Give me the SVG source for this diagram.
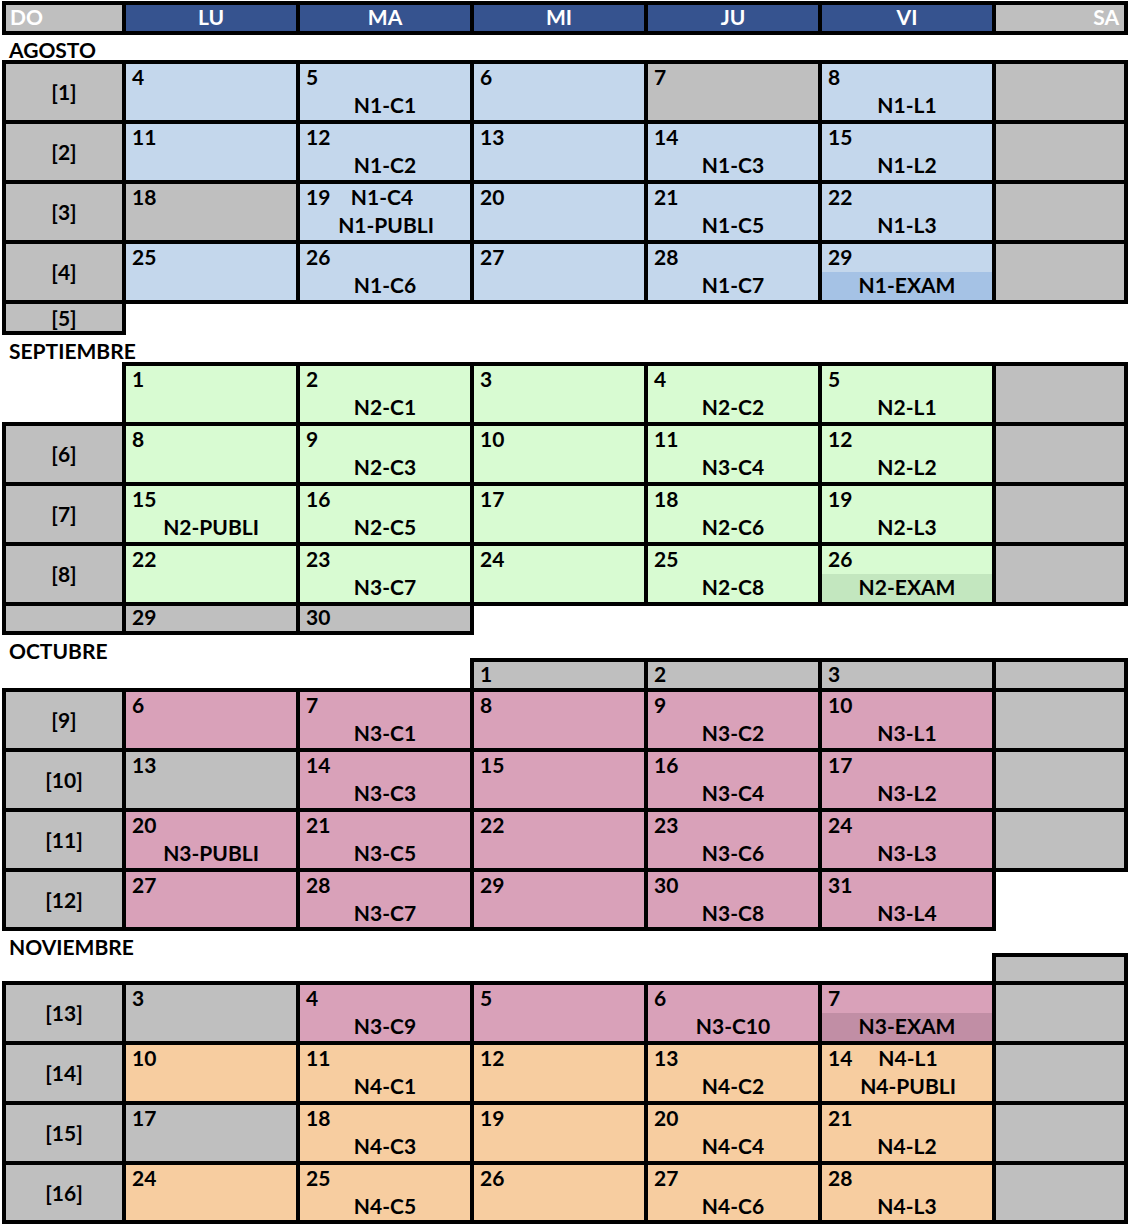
<svg xmlns="http://www.w3.org/2000/svg" width="1128" height="1224" viewBox="0 0 1128 1224">
<style>
text{font-family:Lato,"Liberation Sans",sans-serif;font-weight:bold;font-size:21px;fill:#000}
rect.c{stroke:#000;stroke-width:4}
.g{fill:#BFBFBF}.h{fill:#36538F}.b{fill:#C4D7EC}.gr{fill:#D8FBD2}.p{fill:#D9A1B9}.o{fill:#F7CDA0}
.e1{fill:#A5C2E5}.e2{fill:#C3E7BF}.e3{fill:#C18EA5}
text.w{fill:#fff}
.m{text-anchor:middle}
</style>
<rect width="1128" height="1224" fill="#fff"/>
<g id="header">
<g id="h-do"><rect class="c g" x="4" y="3" width="120" height="30"/><text class="w" x="10" y="25">DO</text></g>
<g id="h-lu"><rect class="c h" x="124" y="3" width="174" height="30"/><text class="w m" x="211" y="25">LU</text></g>
<g id="h-ma"><rect class="c h" x="298" y="3" width="174" height="30"/><text class="w m" x="385" y="25">MA</text></g>
<g id="h-mi"><rect class="c h" x="472" y="3" width="174" height="30"/><text class="w m" x="559" y="25">MI</text></g>
<g id="h-ju"><rect class="c h" x="646" y="3" width="174" height="30"/><text class="w m" x="733" y="25">JU</text></g>
<g id="h-vi"><rect class="c h" x="820" y="3" width="174" height="30"/><text class="w m" x="907" y="25">VI</text></g>
<g id="h-sa"><rect class="c g" x="994" y="3" width="132" height="30"/><text class="w" x="1119" y="25" text-anchor="end">SA</text></g>
</g>

<g id="agosto">
<text id="t-agosto" x="9" y="58">AGOSTO</text>
<g id="w1"><rect class="c g" x="4" y="62" width="120" height="60"/><text class="m" x="64" y="100">[1]</text></g>
<g id="ago4"><rect class="c b" x="124" y="62" width="174" height="60"/><text x="132" y="85">4</text></g>
<g id="ago5"><rect class="c b" x="298" y="62" width="174" height="60"/><text x="306" y="85">5</text><text class="m" x="385" y="113">N1-C1</text></g>
<g id="ago6"><rect class="c b" x="472" y="62" width="174" height="60"/><text x="480" y="85">6</text></g>
<g id="ago7"><rect class="c g" x="646" y="62" width="174" height="60"/><text x="654" y="85">7</text></g>
<g id="ago8"><rect class="c b" x="820" y="62" width="174" height="60"/><text x="828" y="85">8</text><text class="m" x="907" y="113">N1-L1</text></g>
<g id="ago-sa1"><rect class="c g" x="994" y="62" width="132" height="60"/></g>

<g id="w2"><rect class="c g" x="4" y="122" width="120" height="60"/><text class="m" x="64" y="160">[2]</text></g>
<g id="ago11"><rect class="c b" x="124" y="122" width="174" height="60"/><text x="132" y="145">11</text></g>
<g id="ago12"><rect class="c b" x="298" y="122" width="174" height="60"/><text x="306" y="145">12</text><text class="m" x="385" y="173">N1-C2</text></g>
<g id="ago13"><rect class="c b" x="472" y="122" width="174" height="60"/><text x="480" y="145">13</text></g>
<g id="ago14"><rect class="c b" x="646" y="122" width="174" height="60"/><text x="654" y="145">14</text><text class="m" x="733" y="173">N1-C3</text></g>
<g id="ago15"><rect class="c b" x="820" y="122" width="174" height="60"/><text x="828" y="145">15</text><text class="m" x="907" y="173">N1-L2</text></g>
<g id="ago-sa2"><rect class="c g" x="994" y="122" width="132" height="60"/></g>

<g id="w3"><rect class="c g" x="4" y="182" width="120" height="60"/><text class="m" x="64" y="220">[3]</text></g>
<g id="ago18"><rect class="c g" x="124" y="182" width="174" height="60"/><text x="132" y="205">18</text></g>
<g id="ago19"><rect class="c b" x="298" y="182" width="174" height="60"/><text x="306" y="205">19</text><text class="m" x="382" y="205">N1-C4</text><text class="m" x="386" y="233">N1-PUBLI</text></g>
<g id="ago20"><rect class="c b" x="472" y="182" width="174" height="60"/><text x="480" y="205">20</text></g>
<g id="ago21"><rect class="c b" x="646" y="182" width="174" height="60"/><text x="654" y="205">21</text><text class="m" x="733" y="233">N1-C5</text></g>
<g id="ago22"><rect class="c b" x="820" y="182" width="174" height="60"/><text x="828" y="205">22</text><text class="m" x="907" y="233">N1-L3</text></g>
<g id="ago-sa3"><rect class="c g" x="994" y="182" width="132" height="60"/></g>

<g id="w4"><rect class="c g" x="4" y="242" width="120" height="60"/><text class="m" x="64" y="280">[4]</text></g>
<g id="ago25"><rect class="c b" x="124" y="242" width="174" height="60"/><text x="132" y="265">25</text></g>
<g id="ago26"><rect class="c b" x="298" y="242" width="174" height="60"/><text x="306" y="265">26</text><text class="m" x="385" y="293">N1-C6</text></g>
<g id="ago27"><rect class="c b" x="472" y="242" width="174" height="60"/><text x="480" y="265">27</text></g>
<g id="ago28"><rect class="c b" x="646" y="242" width="174" height="60"/><text x="654" y="265">28</text><text class="m" x="733" y="293">N1-C7</text></g>
<g id="ago29"><rect class="c b" x="820" y="242" width="174" height="60"/><rect class="e1" x="822" y="272" width="170" height="28"/><text x="828" y="265">29</text><text class="m" x="907" y="293">N1-EXAM</text></g>
<g id="ago-sa4"><rect class="c g" x="994" y="242" width="132" height="60"/></g>

<g id="w5"><rect class="c g" x="4" y="302" width="120" height="31"/><text class="m" x="64" y="326">[5]</text></g>
</g>

<g id="septiembre">
<text id="t-sept" x="9" y="359">SEPTIEMBRE</text>
<g id="sep1"><rect class="c gr" x="124" y="364" width="174" height="60"/><text x="132" y="387">1</text></g>
<g id="sep2"><rect class="c gr" x="298" y="364" width="174" height="60"/><text x="306" y="387">2</text><text class="m" x="385" y="415">N2-C1</text></g>
<g id="sep3"><rect class="c gr" x="472" y="364" width="174" height="60"/><text x="480" y="387">3</text></g>
<g id="sep4"><rect class="c gr" x="646" y="364" width="174" height="60"/><text x="654" y="387">4</text><text class="m" x="733" y="415">N2-C2</text></g>
<g id="sep5"><rect class="c gr" x="820" y="364" width="174" height="60"/><text x="828" y="387">5</text><text class="m" x="907" y="415">N2-L1</text></g>
<g id="sep-sa1"><rect class="c g" x="994" y="364" width="132" height="60"/></g>

<g id="w6"><rect class="c g" x="4" y="424" width="120" height="60"/><text class="m" x="64" y="462">[6]</text></g>
<g id="sep8"><rect class="c gr" x="124" y="424" width="174" height="60"/><text x="132" y="447">8</text></g>
<g id="sep9"><rect class="c gr" x="298" y="424" width="174" height="60"/><text x="306" y="447">9</text><text class="m" x="385" y="475">N2-C3</text></g>
<g id="sep10"><rect class="c gr" x="472" y="424" width="174" height="60"/><text x="480" y="447">10</text></g>
<g id="sep11"><rect class="c gr" x="646" y="424" width="174" height="60"/><text x="654" y="447">11</text><text class="m" x="733" y="475">N3-C4</text></g>
<g id="sep12"><rect class="c gr" x="820" y="424" width="174" height="60"/><text x="828" y="447">12</text><text class="m" x="907" y="475">N2-L2</text></g>
<g id="sep-sa2"><rect class="c g" x="994" y="424" width="132" height="60"/></g>

<g id="w7"><rect class="c g" x="4" y="484" width="120" height="60"/><text class="m" x="64" y="522">[7]</text></g>
<g id="sep15"><rect class="c gr" x="124" y="484" width="174" height="60"/><text x="132" y="507">15</text><text class="m" x="211" y="535">N2-PUBLI</text></g>
<g id="sep16"><rect class="c gr" x="298" y="484" width="174" height="60"/><text x="306" y="507">16</text><text class="m" x="385" y="535">N2-C5</text></g>
<g id="sep17"><rect class="c gr" x="472" y="484" width="174" height="60"/><text x="480" y="507">17</text></g>
<g id="sep18"><rect class="c gr" x="646" y="484" width="174" height="60"/><text x="654" y="507">18</text><text class="m" x="733" y="535">N2-C6</text></g>
<g id="sep19"><rect class="c gr" x="820" y="484" width="174" height="60"/><text x="828" y="507">19</text><text class="m" x="907" y="535">N2-L3</text></g>
<g id="sep-sa3"><rect class="c g" x="994" y="484" width="132" height="60"/></g>

<g id="w8"><rect class="c g" x="4" y="544" width="120" height="60"/><text class="m" x="64" y="582">[8]</text></g>
<g id="sep22"><rect class="c gr" x="124" y="544" width="174" height="60"/><text x="132" y="567">22</text></g>
<g id="sep23"><rect class="c gr" x="298" y="544" width="174" height="60"/><text x="306" y="567">23</text><text class="m" x="385" y="595">N3-C7</text></g>
<g id="sep24"><rect class="c gr" x="472" y="544" width="174" height="60"/><text x="480" y="567">24</text></g>
<g id="sep25"><rect class="c gr" x="646" y="544" width="174" height="60"/><text x="654" y="567">25</text><text class="m" x="733" y="595">N2-C8</text></g>
<g id="sep26"><rect class="c gr" x="820" y="544" width="174" height="60"/><rect class="e2" x="822" y="574" width="170" height="28"/><text x="828" y="567">26</text><text class="m" x="907" y="595">N2-EXAM</text></g>
<g id="sep-sa4"><rect class="c g" x="994" y="544" width="132" height="60"/></g>

<g id="w-sep5"><rect class="c g" x="4" y="604" width="120" height="29"/></g>
<g id="sep29"><rect class="c g" x="124" y="604" width="174" height="29"/><text x="132" y="625">29</text></g>
<g id="sep30"><rect class="c g" x="298" y="604" width="174" height="29"/><text x="306" y="625">30</text></g>
</g>

<g id="octubre">
<text id="t-oct" x="9" y="659">OCTUBRE</text>
<g id="oct1"><rect class="c g" x="472" y="660" width="174" height="30"/><text x="480" y="682">1</text></g>
<g id="oct2"><rect class="c g" x="646" y="660" width="174" height="30"/><text x="654" y="682">2</text></g>
<g id="oct3"><rect class="c g" x="820" y="660" width="174" height="30"/><text x="828" y="682">3</text></g>
<g id="oct-sa0"><rect class="c g" x="994" y="660" width="132" height="30"/></g>

<g id="w9"><rect class="c g" x="4" y="690" width="120" height="60"/><text class="m" x="64" y="728">[9]</text></g>
<g id="oct6"><rect class="c p" x="124" y="690" width="174" height="60"/><text x="132" y="713">6</text></g>
<g id="oct7"><rect class="c p" x="298" y="690" width="174" height="60"/><text x="306" y="713">7</text><text class="m" x="385" y="741">N3-C1</text></g>
<g id="oct8"><rect class="c p" x="472" y="690" width="174" height="60"/><text x="480" y="713">8</text></g>
<g id="oct9"><rect class="c p" x="646" y="690" width="174" height="60"/><text x="654" y="713">9</text><text class="m" x="733" y="741">N3-C2</text></g>
<g id="oct10"><rect class="c p" x="820" y="690" width="174" height="60"/><text x="828" y="713">10</text><text class="m" x="907" y="741">N3-L1</text></g>
<g id="oct-sa1"><rect class="c g" x="994" y="690" width="132" height="60"/></g>

<g id="w10"><rect class="c g" x="4" y="750" width="120" height="60"/><text class="m" x="64" y="788">[10]</text></g>
<g id="oct13"><rect class="c g" x="124" y="750" width="174" height="60"/><text x="132" y="773">13</text></g>
<g id="oct14"><rect class="c p" x="298" y="750" width="174" height="60"/><text x="306" y="773">14</text><text class="m" x="385" y="801">N3-C3</text></g>
<g id="oct15"><rect class="c p" x="472" y="750" width="174" height="60"/><text x="480" y="773">15</text></g>
<g id="oct16"><rect class="c p" x="646" y="750" width="174" height="60"/><text x="654" y="773">16</text><text class="m" x="733" y="801">N3-C4</text></g>
<g id="oct17"><rect class="c p" x="820" y="750" width="174" height="60"/><text x="828" y="773">17</text><text class="m" x="907" y="801">N3-L2</text></g>
<g id="oct-sa2"><rect class="c g" x="994" y="750" width="132" height="60"/></g>

<g id="w11"><rect class="c g" x="4" y="810" width="120" height="60"/><text class="m" x="64" y="848">[11]</text></g>
<g id="oct20"><rect class="c p" x="124" y="810" width="174" height="60"/><text x="132" y="833">20</text><text class="m" x="211" y="861">N3-PUBLI</text></g>
<g id="oct21"><rect class="c p" x="298" y="810" width="174" height="60"/><text x="306" y="833">21</text><text class="m" x="385" y="861">N3-C5</text></g>
<g id="oct22"><rect class="c p" x="472" y="810" width="174" height="60"/><text x="480" y="833">22</text></g>
<g id="oct23"><rect class="c p" x="646" y="810" width="174" height="60"/><text x="654" y="833">23</text><text class="m" x="733" y="861">N3-C6</text></g>
<g id="oct24"><rect class="c p" x="820" y="810" width="174" height="60"/><text x="828" y="833">24</text><text class="m" x="907" y="861">N3-L3</text></g>
<g id="oct-sa3"><rect class="c g" x="994" y="810" width="132" height="60"/></g>

<g id="w12"><rect class="c g" x="4" y="870" width="120" height="59"/><text class="m" x="64" y="908">[12]</text></g>
<g id="oct27"><rect class="c p" x="124" y="870" width="174" height="59"/><text x="132" y="893">27</text></g>
<g id="oct28"><rect class="c p" x="298" y="870" width="174" height="59"/><text x="306" y="893">28</text><text class="m" x="385" y="921">N3-C7</text></g>
<g id="oct29"><rect class="c p" x="472" y="870" width="174" height="59"/><text x="480" y="893">29</text></g>
<g id="oct30"><rect class="c p" x="646" y="870" width="174" height="59"/><text x="654" y="893">30</text><text class="m" x="733" y="921">N3-C8</text></g>
<g id="oct31"><rect class="c p" x="820" y="870" width="174" height="59"/><text x="828" y="893">31</text><text class="m" x="907" y="921">N3-L4</text></g>
</g>

<g id="noviembre">
<text id="t-nov" x="9" y="955">NOVIEMBRE</text>
<g id="nov-sa0"><rect class="c g" x="994" y="955" width="132" height="28"/></g>

<g id="w13"><rect class="c g" x="4" y="983" width="120" height="60"/><text class="m" x="64" y="1021">[13]</text></g>
<g id="nov3"><rect class="c g" x="124" y="983" width="174" height="60"/><text x="132" y="1006">3</text></g>
<g id="nov4"><rect class="c p" x="298" y="983" width="174" height="60"/><text x="306" y="1006">4</text><text class="m" x="385" y="1034">N3-C9</text></g>
<g id="nov5"><rect class="c p" x="472" y="983" width="174" height="60"/><text x="480" y="1006">5</text></g>
<g id="nov6"><rect class="c p" x="646" y="983" width="174" height="60"/><text x="654" y="1006">6</text><text class="m" x="733" y="1034">N3-C10</text></g>
<g id="nov7"><rect class="c p" x="820" y="983" width="174" height="60"/><rect class="e3" x="822" y="1013" width="170" height="28"/><text x="828" y="1006">7</text><text class="m" x="907" y="1034">N3-EXAM</text></g>
<g id="nov-sa1"><rect class="c g" x="994" y="983" width="132" height="60"/></g>

<g id="w14"><rect class="c g" x="4" y="1043" width="120" height="60"/><text class="m" x="64" y="1081">[14]</text></g>
<g id="nov10"><rect class="c o" x="124" y="1043" width="174" height="60"/><text x="132" y="1066">10</text></g>
<g id="nov11"><rect class="c o" x="298" y="1043" width="174" height="60"/><text x="306" y="1066">11</text><text class="m" x="385" y="1094">N4-C1</text></g>
<g id="nov12"><rect class="c o" x="472" y="1043" width="174" height="60"/><text x="480" y="1066">12</text></g>
<g id="nov13"><rect class="c o" x="646" y="1043" width="174" height="60"/><text x="654" y="1066">13</text><text class="m" x="733" y="1094">N4-C2</text></g>
<g id="nov14"><rect class="c o" x="820" y="1043" width="174" height="60"/><text x="828" y="1066">14</text><text class="m" x="908" y="1066">N4-L1</text><text class="m" x="908" y="1094">N4-PUBLI</text></g>
<g id="nov-sa2"><rect class="c g" x="994" y="1043" width="132" height="60"/></g>

<g id="w15"><rect class="c g" x="4" y="1103" width="120" height="60"/><text class="m" x="64" y="1141">[15]</text></g>
<g id="nov17"><rect class="c g" x="124" y="1103" width="174" height="60"/><text x="132" y="1126">17</text></g>
<g id="nov18"><rect class="c o" x="298" y="1103" width="174" height="60"/><text x="306" y="1126">18</text><text class="m" x="385" y="1154">N4-C3</text></g>
<g id="nov19"><rect class="c o" x="472" y="1103" width="174" height="60"/><text x="480" y="1126">19</text></g>
<g id="nov20"><rect class="c o" x="646" y="1103" width="174" height="60"/><text x="654" y="1126">20</text><text class="m" x="733" y="1154">N4-C4</text></g>
<g id="nov21"><rect class="c o" x="820" y="1103" width="174" height="60"/><text x="828" y="1126">21</text><text class="m" x="907" y="1154">N4-L2</text></g>
<g id="nov-sa3"><rect class="c g" x="994" y="1103" width="132" height="60"/></g>

<g id="w16"><rect class="c g" x="4" y="1163" width="120" height="59"/><text class="m" x="64" y="1201">[16]</text></g>
<g id="nov24"><rect class="c o" x="124" y="1163" width="174" height="59"/><text x="132" y="1186">24</text></g>
<g id="nov25"><rect class="c o" x="298" y="1163" width="174" height="59"/><text x="306" y="1186">25</text><text class="m" x="385" y="1214">N4-C5</text></g>
<g id="nov26"><rect class="c o" x="472" y="1163" width="174" height="59"/><text x="480" y="1186">26</text></g>
<g id="nov27"><rect class="c o" x="646" y="1163" width="174" height="59"/><text x="654" y="1186">27</text><text class="m" x="733" y="1214">N4-C6</text></g>
<g id="nov28"><rect class="c o" x="820" y="1163" width="174" height="59"/><text x="828" y="1186">28</text><text class="m" x="907" y="1214">N4-L3</text></g>
<g id="nov-sa4"><rect class="c g" x="994" y="1163" width="132" height="59"/></g>
</g>
</svg>
